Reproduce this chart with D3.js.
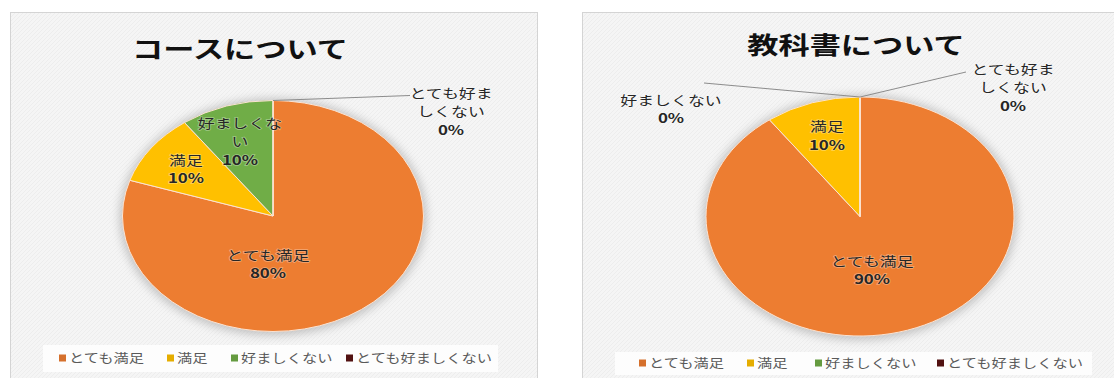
<!DOCTYPE html>
<html><head><meta charset="utf-8">
<script src="https://cdn.jsdelivr.net/npm/d3@7"></script>
<style>
html,body{margin:0;padding:0;background:#fff;}
svg{display:block;}
text{font-family:"Noto Sans CJK JP","Noto Sans",sans-serif;}
</style></head>
<body>
<svg id="chart" width="1114" height="378"></svg>
<script>
// ---- data ----
const categories = ["とても満足", "満足", "好ましくない", "とても好ましくない"];
const courseValues = [80, 10, 10, 0];
const textbookValues = [90, 10, 0, 0];
const chartTitles = ["コースについて", "教科書について"];
const sliceColors = ["#ED7D31", "#FFC000", "#70AD47", "#5A1313"];

// ---- layout (positions / styles) ----
const SX = 1.3; // horizontal stretch of the original picture
const panels = [
  {
    title: chartTitles[0], values: courseValues,
    frame: {x: 10.5, y: 12.5, w: 527, h: 400},
    titleY: 48, titleX: 240,
    pie: {cx: 273, cy: 216, rx: 150.5, ry: 115.5},
    legend: {x: 43, y: 345, w: 455, h: 27, ty: 358, sq: [59, 167, 231, 346]},
    labels: [
      {dx: -5, dy: 38, split: [5]},
      {dx: -87, dy: -57, split: [2]},
      {dx: -33, dy: -94, split: [5, 1]},
      {dx: 178, dy: -124, split: [5, 4], leader: [410, 95.5]}
    ]
  },
  {
    title: chartTitles[1], values: textbookValues,
    frame: {x: 582.5, y: 12.5, w: 560, h: 400},
    titleY: 44, titleX: 856,
    pie: {cx: 860, cy: 216.5, rx: 154, ry: 119.5},
    legend: {x: 615, y: 352, w: 477, h: 23, ty: 363, sq: [639, 747, 815, 937]},
    labels: [
      {dx: 12, dy: 43.5, split: [5]},
      {dx: -33, dy: -91, split: [2]},
      {dx: -189, dy: -117.5, split: [6], leader: [704, 83]},
      {dx: 153, dy: -148.5, split: [5, 4], leader: [966, 72]}
    ]
  }
];

const svg = d3.select("#chart");
const defs = svg.append("defs");
const pat = defs.append("pattern").attr("id", "hatch").attr("patternUnits", "userSpaceOnUse")
  .attr("width", 4).attr("height", 4);
pat.append("rect").attr("width", 4).attr("height", 4).attr("fill", "#f5f5f5");
pat.append("path").attr("d", "M-1,1 l2,-2 M0,4 l4,-4 M3,5 l2,-2")
  .attr("stroke", "#ededed").attr("stroke-width", 1);
const blur = defs.append("filter").attr("id", "shadow").attr("x", "-20%").attr("y", "-20%")
  .attr("width", "140%").attr("height", "140%");
blur.append("feGaussianBlur").attr("stdDeviation", 5);

const pieGen = d3.pie().sort(null).value(d => d).startAngle(0).endAngle(2 * Math.PI);

panels.forEach(p => {
  const g = svg.append("g");
  // frame
  g.append("rect").attr("x", p.frame.x).attr("y", p.frame.y).attr("width", p.frame.w).attr("height", p.frame.h)
    .attr("fill", "url(#hatch)").attr("stroke", "#d4d4d4").attr("stroke-width", 1);
  // title
  g.append("text").attr("transform", `translate(${p.titleX},${p.titleY}) scale(${SX},1)`)
    .attr("text-anchor", "middle").attr("dominant-baseline", "central")
    .attr("font-size", 24).attr("font-weight", 700).attr("fill", "#111").text(p.title);

  const {cx, cy, rx, ry} = p.pie;
  const total = d3.sum(p.values);
  const arcs = pieGen(p.values);
  const arc = d3.arc().innerRadius(0).outerRadius(ry);

  // shadow
  g.append("ellipse").attr("cx", cx).attr("cy", cy + 1).attr("rx", rx + 3).attr("ry", ry + 3)
    .attr("fill", "#9a9a9a").attr("opacity", 0.55).attr("filter", "url(#shadow)");

  const pg = g.append("g").attr("transform", `translate(${cx},${cy}) scale(${rx / ry},1)`);
  pg.selectAll("path").data(arcs).join("path")
    .attr("d", arc)
    .attr("fill", (d, i) => sliceColors[i])
    .attr("stroke", "#fbe3d2").attr("stroke-width", 1)
    .attr("vector-effect", "non-scaling-stroke");

  // labels
  arcs.forEach((a, i) => {
    const L = p.labels[i];
    const name = categories[i];
    const lines = [];
    let pos = 0;
    L.split.forEach(n => { lines.push(name.slice(pos, pos + n)); pos += n; });
    lines.push(Math.round(a.value / total * 100) + "%");
    if (L.leader) {
      const ang = a.startAngle;
      const sx0 = cx + rx * Math.sin(ang), sy0 = cy - ry * Math.cos(ang);
      g.append("line").attr("x1", sx0).attr("y1", sy0).attr("x2", L.leader[0]).attr("y2", L.leader[1])
        .attr("stroke", "#8c8c8c").attr("stroke-width", 1);
    }
    const step = 18.5;
    lines.forEach((ln, k) => {
      const isPct = k === lines.length - 1;
      g.append("text")
        .attr("transform", `translate(${cx + L.dx},${cy + L.dy + k * step}) scale(${SX},1)`)
        .attr("text-anchor", "middle").attr("dominant-baseline", "central")
        .attr("font-size", 13)
        .attr("font-weight", isPct ? 700 : 400)
        .attr("fill", "#262626")
        .attr("stroke", "rgba(255,255,255,0.35)").attr("stroke-width", 1.5)
        .attr("paint-order", "stroke")
        .text(ln);
    });
  });

  // legend
  const lg = p.legend;
  g.append("rect").attr("x", lg.x).attr("y", lg.y).attr("width", lg.w).attr("height", lg.h)
    .attr("fill", "#fdfdfd");
  categories.forEach((c, i) => {
    g.append("rect").attr("x", lg.sq[i]).attr("y", lg.ty - 3.5).attr("width", 7).attr("height", 7)
      .attr("fill", d3.color(sliceColors[i]).darker(0.3));
    g.append("text").attr("transform", `translate(${lg.sq[i] + 10},${lg.ty}) scale(1.22,1)`)
      .attr("dominant-baseline", "central").attr("font-size", 12.5).attr("fill", "#595959").text(c);
  });
});
</script>
</body></html>
